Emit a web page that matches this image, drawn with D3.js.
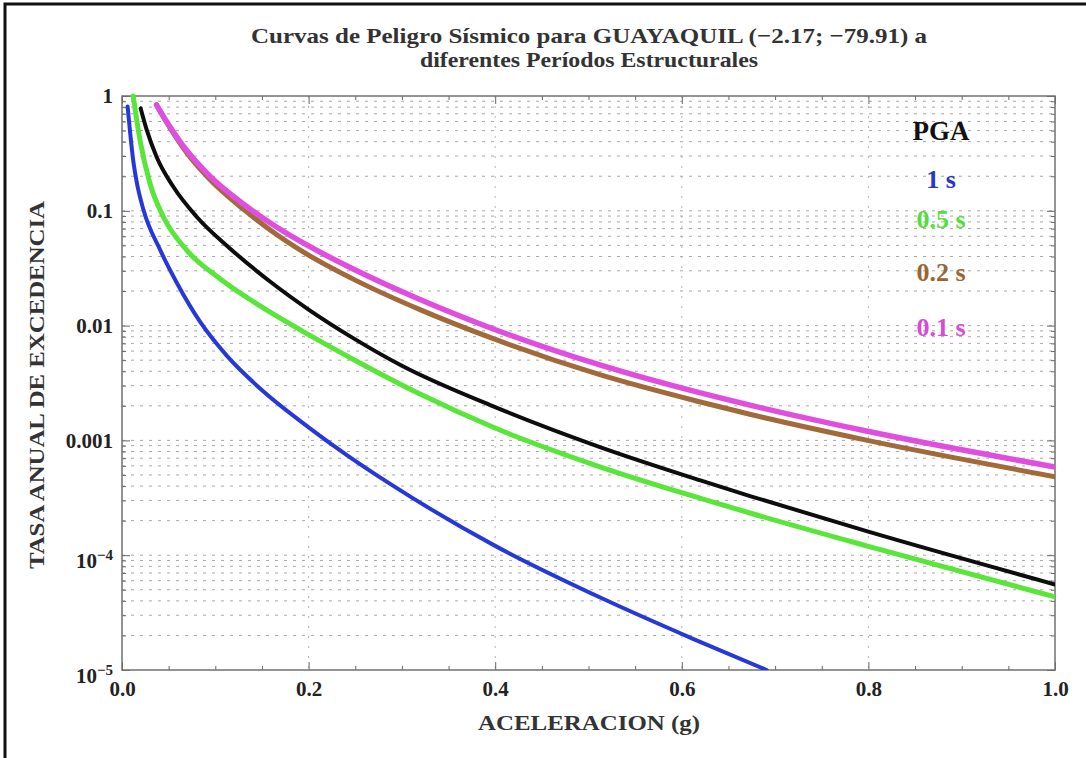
<!DOCTYPE html>
<html>
<head>
<meta charset="utf-8">
<script src="https://cdn.jsdelivr.net/npm/d3@7"></script>
<style>
	body { margin: 0; background: #fff; }
	svg { display: block; }
	text { font-family: "Liberation Serif", "Times New Roman", serif; font-weight: bold; }
</style>
</head>
<body>
<svg id="chart"></svg>
<script>
// tick values + labels
const xTicks = [0, 0.2, 0.4, 0.6, 0.8, 1.0];
const xMinorTicks = [0.05, 0.1, 0.15, 0.25, 0.3, 0.35, 0.45, 0.5, 0.55, 0.65, 0.7, 0.75, 0.85, 0.9, 0.95];
const yTicks = [1, 0.1, 0.01, 0.001, 1e-4, 1e-5];
const yTickBase = ["1", "0.1", "0.01", "0.001", "10", "10"];
const yTickPower = ["", "", "", "", "\u22124", "\u22125"];
const yMinorMult = [2, 3, 4, 5, 6, 7, 8, 9];
const yDecades = [1e-5, 1e-4, 1e-3, 1e-2, 1e-1];

// hazard curves: [aceleracion (g), tasa anual de excedencia]
const pga = [[0.020, 0.78], [0.0265, 0.506], [0.037, 0.296], [0.055, 0.162], [0.080, 0.0887],
	[0.116, 0.0468], [0.159, 0.0241], [0.200, 0.0138], [0.250, 0.00759], [0.300, 0.00447],
	[0.398, 0.00198], [0.513, 8.7e-4], [0.620, 4.48e-4], [0.674, 3.26e-4], [0.799, 1.61e-4],
	[1.0, 5.56e-5]];
const t1s = [[0.006, 0.81], [0.0085, 0.50], [0.012, 0.275], [0.016, 0.174], [0.023, 0.102],
	[0.041, 0.0454], [0.059, 0.0234], [0.084, 0.0107], [0.112, 0.0055], [0.148, 0.00283],
	[0.200, 0.0013], [0.241, 7.45e-4], [0.287, 4.2e-4], [0.398, 1.23e-4], [0.519, 4.05e-5],
	[0.612, 1.87e-5], [0.691, 1.0e-5]];
const t05s = [[0.012, 1.0], [0.0193, 0.413], [0.030, 0.173], [0.0443, 0.0887], [0.0693, 0.0454],
	[0.105, 0.0256], [0.148, 0.01483], [0.200, 0.00834], [0.250, 0.00497], [0.320, 0.00252],
	[0.398, 0.0013], [0.513, 5.86e-4], [0.620, 3.13e-4], [0.674, 2.32e-4], [0.799, 1.2e-4],
	[1.0, 4.33e-5]];
const t02s = [[0.037, 0.835], [0.0515, 0.526], [0.0694, 0.32], [0.094, 0.188], [0.130, 0.1033],
	[0.166, 0.0619], [0.200, 0.0411], [0.250, 0.0249], [0.320, 0.0137], [0.398, 0.00769],
	[0.513, 0.00372], [0.620, 0.00216], [0.674, 0.00168], [0.799, 0.00100], [1.0, 4.83e-4]];
const t01s = [[0.037, 0.835], [0.0515, 0.538], [0.0694, 0.335], [0.094, 0.201], [0.130, 0.1146],
	[0.166, 0.0719], [0.200, 0.0494], [0.250, 0.0305], [0.320, 0.0168], [0.398, 0.00935],
	[0.513, 0.00452], [0.620, 0.00259], [0.674, 0.00202], [0.799, 0.00120], [1.0, 5.87e-4]];

// legend
const legendLabels = ["PGA", "1 s", "0.5 s", "0.2 s", "0.1 s"];
const legendColors = ["#111111", "#2a36c4", "#52df3c", "#9a6534", "#d64cd6"];

// chart dimensions and margins
const width = 1086;
const height = 758;
const marginTop = 96;
const marginRight = 31;
const marginBottom = 88;
const marginLeft = 122;
const legendX = 941;
const legendY = [140, 188, 228, 281, 336];

const x = d3.scaleLinear([0, 1], [marginLeft, width - marginRight]);
const y = d3.scaleLog([1e-5, 1], [height - marginBottom, marginTop]);

const svg = d3.select("#chart")
	.attr("width", width)
	.attr("height", height)
	.attr("viewBox", [0, 0, width, height]);

// outer frame of the figure (top + left edges show in the source)
svg.append("path")
	.attr("d", `M5,${height} V4 H${width}`)
	.attr("fill", "none")
	.attr("stroke", "#111")
	.attr("stroke-width", 3);

// title, glyphs run wider than the stock serif so stretch to the measured width
const title = svg.append("text")
	.attr("text-anchor", "middle")
	.attr("font-size", 22)
	.attr("fill", "#333");
title.append("tspan").attr("x", 589).attr("y", 43)
	.attr("textLength", 676).attr("lengthAdjust", "spacingAndGlyphs")
	.text("Curvas de Peligro S\u00edsmico para GUAYAQUIL (\u22122.17; \u221279.91) a");
title.append("tspan").attr("x", 589).attr("y", 67)
	.attr("textLength", 338).attr("lengthAdjust", "spacingAndGlyphs")
	.text("diferentes Per\u00edodos Estructurales");

// horizontal grid on every log step
const yGrid = yDecades.flatMap(d => yMinorMult.map(m => m * d)).concat(yDecades.slice(1));
svg.append("g")
	.selectAll("line")
	.data(yGrid)
	.join("line")
	.attr("x1", marginLeft)
	.attr("x2", width - marginRight)
	.attr("y1", d => y(d))
	.attr("y2", d => y(d))
	.attr("stroke", "#a8a8a8")
	.attr("stroke-width", 1)
	.attr("stroke-dasharray", "3,6");

// vertical grid on major x ticks
svg.append("g")
	.selectAll("line")
	.data(xTicks.slice(1, -1))
	.join("line")
	.attr("x1", d => x(d))
	.attr("x2", d => x(d))
	.attr("y1", marginTop)
	.attr("y2", height - marginBottom)
	.attr("stroke", "#b4b4b4")
	.attr("stroke-width", 1)
	.attr("stroke-dasharray", "2,8");

// axes, ticks point inwards like the original frame
const yMinor = yDecades.flatMap(d => yMinorMult.map(m => m * d));

function frameAxis(axis, transform) {
	return svg.append("g")
		.attr("transform", transform)
		.call(axis)
		.attr("font-size", 21)
		.attr("font-family", null)
		.attr("color", "#666")
		.call(g => g.select(".domain").remove())
		.call(g => g.selectAll(".tick text").attr("fill", "#222"));
}

frameAxis(d3.axisBottom(x).tickValues(xTicks).tickSize(-8).tickPadding(11).tickFormat(d3.format(".1f")),
	`translate(0,${height - marginBottom})`);
frameAxis(d3.axisBottom(x).tickValues(xMinorTicks).tickSize(-4).tickFormat(""),
	`translate(0,${height - marginBottom})`);
frameAxis(d3.axisTop(x).tickValues(xTicks).tickSize(-8).tickFormat(""), `translate(0,${marginTop})`);
frameAxis(d3.axisTop(x).tickValues(xMinorTicks).tickSize(-4).tickFormat(""), `translate(0,${marginTop})`);

frameAxis(d3.axisLeft(y).tickValues(yTicks).tickSize(-8).tickPadding(9).tickFormat((d, i) => yTickBase[i]),
	`translate(${marginLeft},0)`)
	.call(g => g.selectAll(".tick text").each(function(d, i) {
		if (!yTickPower[i]) return;
		const t = d3.select(this).attr("dy", "0.6em");
		t.append("tspan")
			.attr("dy", "-0.55em")
			.attr("font-size", 15)
			.text(yTickPower[i]);
	}));
frameAxis(d3.axisLeft(y).tickValues(yMinor).tickSize(-4).tickFormat(""), `translate(${marginLeft},0)`);
frameAxis(d3.axisRight(y).tickValues(yTicks).tickSize(-8).tickFormat(""), `translate(${width - marginRight},0)`);
frameAxis(d3.axisRight(y).tickValues(yMinor).tickSize(-4).tickFormat(""), `translate(${width - marginRight},0)`);

// plot frame
svg.append("rect")
	.attr("x", marginLeft)
	.attr("y", marginTop)
	.attr("width", width - marginLeft - marginRight)
	.attr("height", height - marginTop - marginBottom)
	.attr("fill", "none")
	.attr("stroke", "#707070")
	.attr("stroke-width", 1.5);

// axis titles
svg.append("text")
	.attr("x", 589)
	.attr("y", 730)
	.attr("text-anchor", "middle")
	.attr("font-size", 22)
	.attr("textLength", 222)
	.attr("lengthAdjust", "spacingAndGlyphs")
	.attr("fill", "#333")
	.text("ACELERACION (g)");

svg.append("text")
	.attr("transform", "translate(44,385) rotate(-90)")
	.attr("text-anchor", "middle")
	.attr("font-size", 22)
	.attr("textLength", 368)
	.attr("lengthAdjust", "spacingAndGlyphs")
	.attr("fill", "#333")
	.text("TASA ANUAL DE EXCEDENCIA");

// legend text
svg.append("g")
	.selectAll("text")
	.data(legendLabels)
	.join("text")
	.attr("x", legendX)
	.attr("y", (d, i) => legendY[i])
	.attr("text-anchor", "middle")
	.attr("font-size", (d, i) => i === 0 ? 27 : 26)
	.attr("fill", (d, i) => legendColors[i])
	.text(d => d);

// curves
svg.append("clipPath")
	.attr("id", "plot-clip")
	.append("rect")
	.attr("x", marginLeft)
	.attr("y", marginTop - 3)
	.attr("width", width - marginLeft - marginRight)
	.attr("height", height - marginTop - marginBottom + 3);

const hazardLine = d3.line()
	.x(d => x(d[0]))
	.y(d => y(d[1]))
	.curve(d3.curveMonotoneX);

const series = [
	{ data: t1s, color: "#2639d8", width: 4 },
	{ data: t05s, color: "#5ae53b", width: 5 },
	{ data: pga, color: "#0d0d0d", width: 4 },
	{ data: t02s, color: "#a26a3a", width: 5 },
	{ data: t01s, color: "#e04ee0", width: 5.5 }
];

const curves = svg.append("g").attr("clip-path", "url(#plot-clip)");
series.forEach(s => {
	curves.append("path")
		.datum(s.data)
		.attr("fill", "none")
		.attr("stroke", s.color)
		.attr("stroke-width", s.width)
		.attr("stroke-linecap", "round")
		.attr("d", hazardLine);
});
</script>
</body>
</html>
